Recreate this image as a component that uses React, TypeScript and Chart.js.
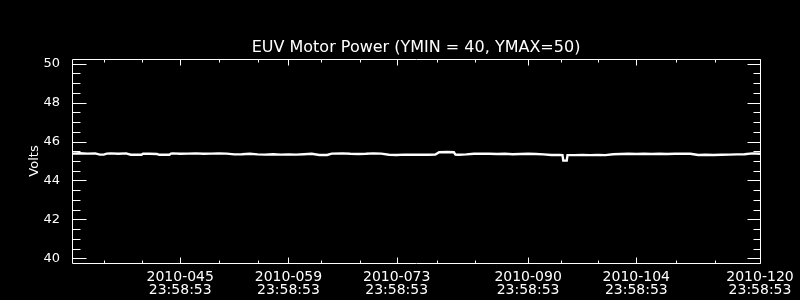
import React, { useEffect, useRef } from 'react';
import { Chart, registerables } from 'chart.js';

Chart.register(...registerables);

const TITLE = 'EUV Motor Power (YMIN = 40, YMAX=50)';
const Y_TITLE = 'Volts';

// x = days since 2010-031 23:58:53
const dayOffsets = [
  0, 1, 2, 3, 3.6, 4.1, 4.5, 5, 6, 7, 7.6, 9, 9.2, 10, 11, 11.3, 12.6, 12.8, 13, 14,
  15, 16, 17, 18, 19, 20, 21, 22, 23, 24, 25, 26, 27, 28, 29, 30, 31, 32, 33, 33.6,
  35, 36, 37, 38, 39, 40, 41, 42, 43, 44, 45, 46, 47, 47.5, 48.5, 49.4, 49.6, 50, 51, 52,
  53, 54, 55, 56, 57, 58, 59, 60, 61, 62, 63, 63.45, 63.55, 64.0, 64.1, 65, 66, 67, 68, 69,
  70, 71, 72, 73, 74, 75, 76, 77, 78, 79, 80, 81, 82, 83, 84, 85, 86, 87, 88, 89,
];
const volts = [
  45.38, 45.40, 45.38, 45.39, 45.33, 45.33, 45.38, 45.39, 45.37, 45.39, 45.32, 45.32, 45.38, 45.37, 45.36, 45.32, 45.32, 45.38, 45.39, 45.37,
  45.38, 45.39, 45.37, 45.38, 45.39, 45.38, 45.34, 45.35, 45.37, 45.34, 45.33, 45.35, 45.33, 45.34, 45.33, 45.35, 45.37, 45.31, 45.31, 45.38,
  45.39, 45.37, 45.36, 45.37, 45.39, 45.38, 45.32, 45.31, 45.33, 45.32, 45.33, 45.32, 45.33, 45.45, 45.46, 45.45, 45.33, 45.32, 45.34, 45.37,
  45.38, 45.37, 45.36, 45.37, 45.35, 45.36, 45.37, 45.36, 45.34, 45.31, 45.31, 45.30, 45.02, 45.02, 45.30, 45.30, 45.31, 45.30, 45.31, 45.30,
  45.35, 45.36, 45.37, 45.36, 45.37, 45.36, 45.37, 45.36, 45.37, 45.38, 45.37, 45.31, 45.32, 45.31, 45.32, 45.33, 45.34, 45.35, 45.39, 45.37,
];

const xMin = 0;
const xMax = 89;
const xMajorDays = [14, 28, 42, 59, 73, 89];
const xMajorDates = ['2010-045', '2010-059', '2010-073', '2010-090', '2010-104', '2010-120'];
const xTimeLabel = '23:58:53';
const xMinorDays = [4.1, 9.1, 19, 24.1, 32.2, 37.2, 47.2, 52.1, 63.2, 68.1, 78.1, 83.2];

const yMin = 39.76;
const yMax = 50.24;
const yMajorTicks = [40, 42, 44, 46, 48, 50];
const yMinorTicks = [40.5, 41, 41.5, 42.5, 43, 43.5, 44.5, 45, 45.5, 46.5, 47, 47.5, 48.5, 49, 49.5];

const FG = '#ffffff';
const BG = '#000000';
const FONT = 'DejaVu Sans';

const idlAxes = {
  id: 'idlAxes',
  beforeDraw(chart: any) {
    const ctx = chart.ctx;
    ctx.save();
    ctx.fillStyle = BG;
    ctx.fillRect(0, 0, chart.width, chart.height);
    ctx.restore();
  },
  afterDatasetsDraw(chart: any) {
    const { ctx, chartArea: a, scales } = chart;
    const x = scales.x;
    const y = scales.y;
    ctx.save();
    ctx.strokeStyle = FG;
    ctx.lineWidth = 1;
    const L = a.left + 0.5;
    const R = a.right + 0.5;
    const T = a.top + 0.5;
    const B = a.bottom + 0.5;
    ctx.beginPath();
    ctx.rect(L, T, R - L, B - T);
    const yTick = (v: number, lenL: number, lenR: number) => {
      const py = Math.round(y.getPixelForValue(v)) + 0.5;
      ctx.moveTo(L, py);
      ctx.lineTo(L + lenL, py);
      ctx.moveTo(R, py);
      ctx.lineTo(R - lenR, py);
    };
    yMajorTicks.forEach((v) => yTick(v, 14, 13));
    yMinorTicks.forEach((v) => yTick(v, 8, 7));
    const xTick = (d: number, len: number) => {
      const px = Math.round(x.getPixelForValue(d)) + 0.5;
      ctx.moveTo(px, B);
      ctx.lineTo(px, B - len);
      ctx.moveTo(px, T);
      ctx.lineTo(px, T + len);
    };
    xMajorDays.forEach((d) => xTick(d, 6));
    xMinorDays.forEach((d) => xTick(d, 3));
    ctx.stroke();
    ctx.restore();
  },
};

export default function App() {
  const ref = useRef<HTMLCanvasElement | null>(null);

  useEffect(() => {
    if (!ref.current) return;
    const chart = new Chart(ref.current, {
      type: 'line',
      data: {
        datasets: [
          {
            data: dayOffsets.map((d, i) => ({ x: d, y: volts[i] })),
            borderColor: FG,
            borderWidth: 2.4,
            pointRadius: 0,
            tension: 0,
            fill: false,
          },
        ],
      },
      plugins: [idlAxes],
      options: {
        animation: false,
        responsive: false,
        layout: { padding: { left: 0, right: 40, top: 0, bottom: 0 } },
        plugins: {
          legend: { display: false },
          tooltip: { enabled: false },
          title: {
            display: true,
            text: TITLE,
            color: FG,
            fullSize: false,
            font: { family: FONT, size: 16, weight: 'normal', lineHeight: 1.2 },
            padding: { top: 38, bottom: 1.8 },
          },
        },
        scales: {
          x: {
            type: 'linear',
            min: xMin,
            max: xMax,
            grid: { display: false },
            border: { display: false },
            afterBuildTicks: (axis: any) => {
              axis.ticks = xMajorDays.map((v) => ({ value: v }));
            },
            afterFit: (axis: any) => {
              axis.height = 37;
            },
            ticks: {
              color: FG,
              autoSkip: false,
              maxRotation: 0,
              minRotation: 0,
              padding: 0,
              font: { family: FONT, size: 14, lineHeight: 0.93 },
              callback: (v: any) => {
                const i = xMajorDays.indexOf(Number(v));
                return [xMajorDates[i], xTimeLabel];
              },
            },
          },
          y: {
            type: 'linear',
            min: yMin,
            max: yMax,
            grid: { display: false },
            border: { display: false },
            afterBuildTicks: (axis: any) => {
              axis.ticks = yMajorTicks.map((v) => ({ value: v }));
            },
            afterFit: (axis: any) => {
              axis.width = 72;
            },
            ticks: {
              color: FG,
              padding: 4,
              font: { family: FONT, size: 13 },
              callback: (v: any) => String(v),
            },
            title: {
              display: true,
              text: Y_TITLE,
              color: FG,
              font: { family: FONT, size: 13 },
              padding: { top: 27, bottom: 0 },
            },
          },
        },
      },
    } as any);
    return () => chart.destroy();
  }, []);

  return (
    <div style={{ position: 'fixed', left: 0, top: 0, width: 800, height: 300, background: BG }}>
      <canvas ref={ref} width={800} height={300} style={{ display: 'block', width: 800, height: 300 }} />
    </div>
  );
}
